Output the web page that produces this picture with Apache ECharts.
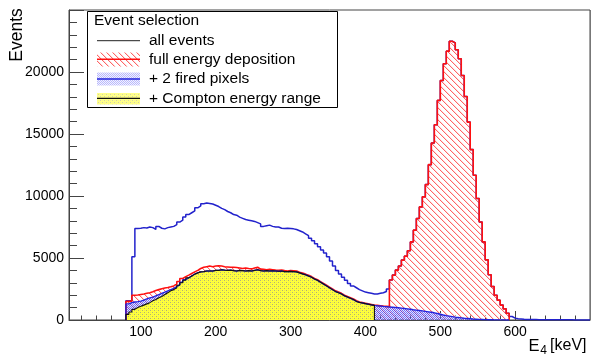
<!DOCTYPE html>
<html><head><meta charset="utf-8">
<script src="https://cdn.jsdelivr.net/npm/echarts@6/dist/echarts.min.js"></script>
<style>html,body{margin:0;padding:0;background:#fff}#c{width:592px;height:358px}</style>
</head><body><div id="c"></div>
<script>
// ---- data (4 keV bins, value = events in bin starting at given energy) ----
const BIN = 4;
const allStart = 80;
const allEvents = [1550,1550,5100,7380,7400,7450,7420,7500,7450,7300,7550,7400,7350,7450,7500,7550,7700,7900,8050,8300,
8500,8650,8800,9050,9200,9380,9440,9400,9350,9250,9150,9000,8900,8750,8650,8500,8450,8300,8200,8100,
8050,8000,7950,7850,7750,7550,7600,7650,7550,7500,7500,7400,7380,7400,7380,7350,7300,7200,7100,6950,
6800,6600,6400,6150,5900,5650,5400,5100,4750,4350,4000,3700,3450,3200,2950,2750,2600,2450,2350,2250,
2200,2150,2100,2090,2150,2200,2300,2500,3220,3620,4025,4350,4830,5150,5580,6300,7245,8185,9120,9930,
10920,12530,14270,15750,17710,19320,20660,21680,22480,22350,21790,21065,19720,18030,15960,13740,11670,9800,7900,6300,
4850,3650,2700,2000,1600,1200,900,550,280,150,100,80,60,50,45,40,35,30,30,25,
25,20,20,20,15,15,15,12,12,10,10,10,8,8,8];
const fullStart = 80;
const fullEnergy = [1500,1520,2000,2020,2060,2100,2150,2200,2280,2380,2450,2520,2580,2620,2680,2750,2900,3100,3350,3500,
3620,3750,3880,4000,4150,4250,4300,4350,4300,4350,4380,4350,4300,4280,4250,4250,4230,4200,4150,4200,
4150,4120,4200,4250,4100,4080,4050,4080,4050,4020,4000,4030,3980,3950,3980,3970,3950,3850,3780,3700,
3600,3500,3350,3250,3100,2950,2800,2650,2500,2350,2250,2150,2000,1900,1800,1700,1550,1450,1400,1350,
1300,1250,1200,1180,1150,1120,1100,1080,3220,3620,4025,4350,4830,5150,5580,6300,7245,8185,9120,9930,
10920,12530,14270,15750,17710,19320,20660,21680,22480,22350,21790,21065,19720,18030,15960,13740,11670,9800,7900,6300,
4850,3650,2700,2000,1600,1200,900,550];
const pixStart = 80;
const twoPixels = [1300,1400,1450,1480,1520,1600,1700,1780,1850,1950,2050,2150,2250,2350,2450,2550,2700,2850,3050,3250,
3400,3550,3700,3800,3880,3900,3950,3950,3950,4000,4000,4050,4020,4000,4020,3980,3950,4000,3980,3950,
3980,3950,4000,4050,3980,3950,3980,3950,3970,3950,3930,3950,3900,3900,3920,3900,3880,3800,3720,3650,
3550,3450,3300,3200,3050,2900,2750,2600,2450,2300,2200,2100,1950,1850,1750,1650,1500,1420,1370,1320,
1270,1220,1180,1150,1130,1100,1080,1050,1030,1010,990,960,930,900,870,830,800,770,740,700,
660,620,580,520,460,400,350,310,270,230,200,170,140,120,100,80,65,50,40,30,
25,20,15,12,10,8,6,5];
const comptonStart = 80;
const compton = [450,650,860,1000,1100,1200,1300,1400,1550,1650,1800,1900,2050,2200,2350,2450,2600,2800,3000,3200,
3400,3550,3700,3800,3880,3900,3950,3950,3950,4000,4000,4050,4020,4000,4020,3980,3950,4000,3980,3950,
3980,3950,4000,4050,3980,3950,3980,3950,3970,3950,3930,3950,3900,3900,3920,3900,3880,3800,3720,3650,
3550,3450,3300,3200,3050,2900,2750,2600,2450,2300,2200,2100,1950,1850,1750,1650,1500,1420,1370,1320,
1270,1220,1180];
const xMin = 4, xMax = 700;
const xLabels = [100,200,300,400,500,600];
const xMinorTicks = [20,40,60,80,120,140,160,180,220,240,260,280,320,340,360,380,420,440,460,480,520,540,560,580,620,640,660,680];
const yLabels = [0,5000,10000,15000,20000];
const legendItems = ['all events','full energy deposition','+ 2 fired pixels','+ Compton energy range'];

// ---- helpers ----
function outline(start, vals) {
  const pts = [[start, 0]];
  vals.forEach((v, i) => { const a = start + i*BIN; pts.push([a, v], [a + BIN, v]); });
  pts.push([start + vals.length*BIN, 0]);
  return pts;
}
function tile(size, draw) {
  const c = document.createElement('canvas'); c.width = c.height = size;
  draw(c.getContext('2d')); return c;
}
const redHatch = tile(6, g => {
  for (let i = 0; i < 6; i++) { g.fillStyle = '#ff6464'; g.fillRect(i, i, 1, 1); g.fillStyle = '#ffdede'; g.fillRect((i+1)%6, i, 1, 1); }
});
const blueDots = tile(2, g => { g.fillStyle = 'rgba(70,70,245,0.75)'; g.fillRect(0,0,1,1); g.fillRect(1,1,1,1); g.fillStyle='rgba(170,170,255,0.3)'; g.fillRect(1,0,1,1); g.fillRect(0,1,1,1); });
const yellowPat = tile(4, g => {
  g.fillStyle = '#ffff3a'; g.fillRect(0,0,4,4);
  g.fillStyle = '#b0b078'; g.fillRect(0,0,1,1); g.fillRect(2,2,1,1);
  g.fillStyle = '#eeee48'; g.fillRect(2,0,1,1); g.fillRect(0,2,1,1);
});
const pat = c => ({ image: c, repeat: 'repeat' });

const FONT = '"Liberation Sans", Arial, sans-serif';
const AX = '#444';
const chart = echarts.init(document.getElementById('c'), null, { renderer: 'canvas' });

const lx = 97, lw = 43, tx = 149;
const rows = [40.7, 59.3, 79, 98.3];

chart.setOption({
  animation: false,
  grid: { left: 69, right: 2, top: 10, bottom: 38, show: true, borderColor: AX, borderWidth: 1, outerBoundsMode: 'none' },
  xAxis: [
    { type: 'value', min: xMin, max: xMax, position: 'bottom',
      axisLine: { show: true, lineStyle: { color: AX, width: 1 } },
      axisTick: { show: true, inside: true, length: 9, customValues: xLabels, lineStyle: { color: AX } },
      axisLabel: { show: true, customValues: xLabels, margin: 5, fontSize: 14, color: '#000', fontFamily: FONT, formatter: v => String(v) },
      splitLine: { show: false } },
    { type: 'value', min: xMin, max: xMax, position: 'bottom', gridIndex: 0,
      axisLine: { show: false },
      axisTick: { show: true, inside: true, length: 4.5, customValues: xMinorTicks, lineStyle: { color: AX } },
      axisLabel: { show: false }, splitLine: { show: false } }
  ],
  yAxis: { type: 'value', min: 0, max: 25000, interval: 5000,
    axisLine: { show: true, lineStyle: { color: AX, width: 1 } },
    axisTick: { show: true, inside: true, length: 15, lineStyle: { color: AX } },
    minorTick: { show: true, splitNumber: 5, length: 8, lineStyle: { color: AX } },
    axisLabel: { customValues: yLabels, margin: 5, fontSize: 14, color: '#000', fontFamily: FONT, formatter: v => String(v) },
    splitLine: { show: false }, minorSplitLine: { show: false } },
  series: [
    { name: legendItems[0], type: 'line', data: outline(allStart, allEvents), symbol: 'none', silent: true,
      lineStyle: { color: '#2222cc', width: 1.5 } },
    { name: legendItems[1], type: 'line', data: outline(fullStart, fullEnergy), symbol: 'none', silent: true,
      lineStyle: { color: '#ff1010', width: 1.6 }, areaStyle: { color: pat(redHatch), opacity: 1 } },
    { name: legendItems[2], type: 'line', data: outline(pixStart, twoPixels), symbol: 'none', silent: true,
      lineStyle: { color: '#2222dd', width: 1.4 }, areaStyle: { color: pat(blueDots), opacity: 1 } },
    { name: legendItems[3], type: 'line', data: outline(comptonStart, compton), symbol: 'none', silent: true,
      lineStyle: { color: '#111', width: 1.1 }, areaStyle: { color: pat(yellowPat), opacity: 1 } }
  ],
  graphic: [
    { type: 'text', x: 17, y: 35, rotation: Math.PI/2, style: { text: 'Events', fontSize: 17.5, fontFamily: FONT, fill: '#000', align: 'center', verticalAlign: 'middle' } },
    { type: 'text', x: 586.5, y: 346, style: { text: '[keV]', fontSize: 16, fontFamily: FONT, fill: '#000', align: 'right', verticalAlign: 'middle' } },
    { type: 'text', x: 547, y: 351, style: { text: '4', fontSize: 12, fontFamily: FONT, fill: '#000', align: 'right', verticalAlign: 'middle' } },
    { type: 'text', x: 539.5, y: 346, style: { text: 'E', fontSize: 16.5, fontFamily: FONT, fill: '#000', align: 'right', verticalAlign: 'middle' } },
    { type: 'line', shape: { x1: 590.5, y1: 10, x2: 590.5, y2: 320 }, style: { stroke: '#777', lineWidth: 1 } },
    { type: 'rect', shape: { x: 87.5, y: 11.5, width: 250, height: 96 }, style: { fill: '#fff', stroke: '#000', lineWidth: 1 }, z: 100 },
    { type: 'text', x: 94, y: 21, z: 101, style: { text: 'Event selection', fontSize: 15.5, fontFamily: FONT, fill: '#000', verticalAlign: 'middle' } },
    { type: 'line', z: 101, shape: { x1: lx, y1: rows[0], x2: lx+lw, y2: rows[0] }, style: { stroke: '#222', lineWidth: 1 } },
    { type: 'rect', z: 101, shape: { x: lx, y: 52.5, width: lw, height: 14 }, style: { fill: pat(redHatch) } },
    { type: 'line', z: 102, shape: { x1: lx, y1: rows[1], x2: lx+lw, y2: rows[1] }, style: { stroke: '#ff1010', lineWidth: 1.5 } },
    { type: 'rect', z: 101, shape: { x: lx, y: 72.5, width: lw, height: 13 }, style: { fill: pat(blueDots), opacity: 0.5 } },
    { type: 'line', z: 102, shape: { x1: lx, y1: rows[2], x2: lx+lw, y2: rows[2] }, style: { stroke: '#2222dd', lineWidth: 1.5 } },
    { type: 'rect', z: 101, shape: { x: lx, y: 93, width: lw, height: 11.5 }, style: { fill: pat(yellowPat), opacity: 0.6 } },
    { type: 'line', z: 102, shape: { x1: lx, y1: rows[3], x2: lx+lw, y2: rows[3] }, style: { stroke: '#111', lineWidth: 1.2 } },
    ...legendItems.map((t, i) => ({ type: 'text', x: tx, y: rows[i], z: 101,
      style: { text: t, fontSize: 15.5, fontFamily: FONT, fill: '#000', verticalAlign: 'middle' } }))
  ]
});
</script></body></html>
